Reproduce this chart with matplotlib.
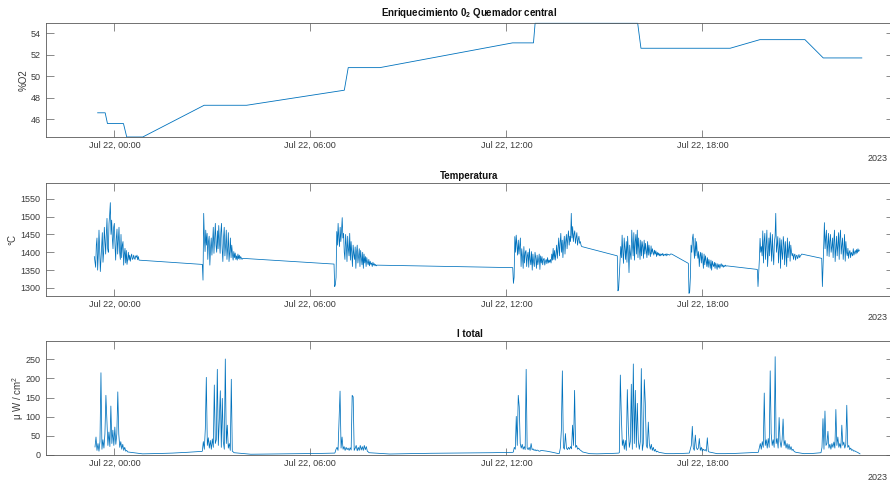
import numpy as np
import matplotlib
matplotlib.use('Agg')
import matplotlib.pyplot as plt
import matplotlib.dates as mdates

plt.rcParams['font.family'] = ['Liberation Sans', 'DejaVu Sans']
plt.rcParams['mathtext.fontset'] = 'custom'
plt.rcParams['mathtext.rm'] = 'Liberation Sans'
plt.rcParams['mathtext.it'] = 'Liberation Sans:italic'
plt.rcParams['mathtext.bf'] = 'Liberation Sans:bold'

BASE = np.datetime64('2023-07-22T00:00')
X_RANGE_H = (-2.091, 23.835)

# ---------------- O2 enrichment (hours after Jul 22 00:00, %O2) ----------------
o2_hours = [-0.51, -0.28, -0.21, 0.28, 0.38, 0.87, 2.75, 4.05, 7.04, 7.16, 8.13,
            12.19, 12.83, 12.88, 16.02, 16.12, 18.85, 19.76, 21.14, 21.70, 22.88]
o2_values = [46.6, 46.6, 45.6, 45.6, 44.35, 44.35, 47.3, 47.3, 48.7, 50.8, 50.8,
             53.1, 53.1, 54.92, 54.92, 52.6, 52.6, 53.4, 53.4, 51.7, 51.7]

# ---------------- Temperature bursts (start h, end h), values in °C ----------------
temp_spans = [(-0.612, 0.756), (2.694, 3.930), (6.725, 8.041), (12.195, 14.307),
              (15.396, 17.062), (17.570, 18.745), (19.682, 21.041), (21.653, 22.804)]
temp_b1 = [1388, 1372, 1358, 1420, 1440, 1350, 1395, 1462, 1410, 1346, 1380, 1420, 1455,
           1372, 1400, 1470, 1430, 1395, 1450, 1495, 1410, 1400,
           1480, 1505, 1539, 1450,
           1490, 1440, 1410, 1470, 1481, 1420, 1378, 1440, 1465, 1395, 1430, 1470, 1400,
           1380, 1450,
           1385, 1420, 1430, 1364, 1395, 1411, 1370, 1405, 1366, 1380, 1400, 1378,
           1392, 1375, 1388, 1395, 1380, 1382, 1392, 1384, 1380, 1390, 1386, 1392, 1379,
           1388, 1378]
temp_b2 = [1366, 1322, 1509, 1440, 1402, 1462, 1420, 1453, 1380, 1430, 1445, 1364, 1410,
           1440, 1392, 1425,
           1470, 1397, 1440, 1481, 1420, 1400, 1460, 1410, 1475, 1430, 1397, 1455, 1481,
           1410,
           1374, 1440, 1470, 1390, 1420, 1462, 1380, 1410, 1455, 1374, 1400, 1440, 1385,
           1420, 1395,
           1378, 1402, 1385, 1398, 1380, 1390, 1378, 1395, 1382, 1392, 1380, 1388, 1384,
           1380, 1383]
temp_b3 = [1367, 1304, 1310, 1330, 1458, 1420, 1481, 1440, 1416, 1470, 1430, 1460, 1497,
           1440, 1453,
           1400, 1380, 1450, 1420, 1374, 1445, 1410, 1390, 1453, 1378, 1430, 1400, 1360,
           1420, 1395,
           1380, 1415, 1355, 1400, 1420, 1370, 1390, 1410, 1360, 1405, 1385, 1365, 1400,
           1355, 1395, 1370, 1388,
           1360, 1385, 1372, 1365, 1380, 1362, 1375, 1366, 1370, 1360, 1372, 1364, 1368,
           1362, 1366, 1362, 1364]
temp_b4 = [1357, 1313, 1330, 1444, 1400, 1448, 1420, 1392, 1434, 1395, 1416, 1440,
           1360, 1410, 1385, 1355, 1416, 1370, 1400, 1405, 1360, 1390, 1400, 1358, 1410,
           1380, 1365, 1402,
           1350, 1395, 1372, 1360, 1400, 1385, 1355, 1392, 1365, 1378, 1395, 1352, 1390,
           1370, 1388, 1365, 1380, 1383, 1364, 1375, 1380, 1368, 1385, 1370, 1378, 1372,
           1380, 1370,
           1395, 1378, 1411, 1380, 1405, 1378, 1395, 1420, 1383, 1410, 1440, 1390, 1425,
           1453, 1400, 1434, 1385, 1420, 1445, 1395, 1430, 1450, 1410, 1440, 1460, 1420,
           1445,
           1430, 1509, 1440, 1472, 1430, 1450, 1460, 1425, 1440, 1455, 1420, 1435, 1445,
           1425, 1430, 1420, 1416]
temp_b5 = [1390, 1292, 1300, 1340, 1380, 1416, 1385, 1448, 1400, 1369, 1440, 1410, 1380,
           1430, 1372, 1445, 1400, 1343, 1420, 1395, 1380, 1462, 1420, 1390, 1455, 1378,
           1430, 1450, 1395,
           1462, 1385, 1440, 1410, 1380, 1434, 1390, 1430, 1415, 1383, 1434, 1395, 1425,
           1405, 1385, 1430, 1392, 1420, 1400, 1388,
           1418, 1395, 1410, 1400, 1392, 1406, 1395, 1404, 1388, 1400, 1392, 1398, 1390,
           1396, 1390, 1395, 1392, 1397, 1390, 1394, 1392, 1395, 1390, 1396, 1392, 1394,
           1393, 1392, 1395, 1395, 1395]
temp_b6 = [1369, 1285, 1290, 1330, 1420, 1400, 1439, 1451, 1410, 1383, 1439, 1390, 1430,
           1400, 1383,
           1402, 1360, 1390, 1400, 1370, 1398, 1380, 1355, 1395, 1365, 1390, 1378, 1360,
           1385, 1358,
           1380, 1370, 1355, 1378, 1350, 1375, 1365, 1360, 1372, 1355, 1370, 1362, 1352,
           1368, 1358, 1366, 1355, 1364, 1368, 1360, 1365, 1358, 1363, 1360, 1364, 1361,
           1362]
temp_b7 = [1352, 1304, 1340, 1380, 1439, 1400, 1416, 1390, 1460, 1370, 1430, 1453, 1380,
           1420, 1462, 1360, 1400, 1440,
           1390, 1455, 1420, 1375, 1450, 1400, 1365, 1430, 1445, 1509, 1400, 1420, 1444,
           1370, 1410, 1440, 1355,
           1435, 1400, 1380, 1444, 1420, 1365, 1430, 1395, 1360, 1440, 1385, 1410, 1430,
           1375, 1420, 1400, 1390,
           1397, 1380, 1392, 1395, 1378, 1390, 1392, 1382, 1388, 1394, 1385, 1390, 1392,
           1395]
temp_b8 = [1383, 1304, 1360, 1420, 1483, 1410, 1440, 1462, 1390, 1420, 1453, 1388, 1430,
           1450, 1400, 1415, 1440,
           1385, 1430, 1462, 1374, 1410, 1445, 1390, 1420, 1455, 1380, 1440, 1462, 1395,
           1420, 1440, 1380, 1410, 1450, 1375,
           1430, 1400, 1390, 1411, 1383, 1400, 1405, 1385, 1400, 1395, 1390, 1410, 1392,
           1400, 1405, 1395, 1408, 1398, 1410, 1402, 1406]
temp_bursts = [temp_b1, temp_b2, temp_b3, temp_b4, temp_b5, temp_b6, temp_b7, temp_b8]

# ---------------- Total intensity runs (start h, end h), values in µW/cm² ----------------
int_spans = [(-0.591, 0.380), (0.410, 2.684), (2.694, 3.642), (3.664, 6.745),
             (6.755, 7.775), (7.796, 12.204), (12.213, 13.030), (13.061, 13.597),
             (13.621, 14.307), (14.331, 15.433), (15.458, 16.651), (16.673, 17.591),
             (17.600, 18.182), (18.203, 19.703), (19.712, 20.835), (20.866, 21.610),
             (21.631, 22.724), (22.749, 22.825)]
int_b1 = [21, 47, 12, 30, 10, 35, 215, 15, 40, 18, 55, 156, 91, 25, 60, 22, 128, 30, 65,
          25, 73, 28, 55, 165, 54, 20, 35, 15, 28, 12, 20, 10, 12]
int_g1 = [8, 3, 3.8, 5, 7, 9.5]
int_b2 = [10, 35, 15, 69, 203, 25, 45, 18, 38, 15, 42, 20, 183, 30, 40, 224, 25, 91, 168,
          20, 148, 35, 15, 251, 30, 78, 18, 30, 12, 198, 10, 8]
int_g2 = [6, 2, 2.5, 3, 3.5, 4, 5]
int_b3 = [6, 15, 20, 12, 86, 167, 18, 47, 15, 22, 12, 20, 14, 18, 12, 19, 13, 156, 152,
          12, 18, 25, 11, 20, 12, 25, 13, 22, 12, 25, 14, 22, 10, 8]
int_g3 = [6, 2.6, 3.5, 4.5, 5, 5.5, 6, 7]
int_b4 = [8, 20, 15, 101, 25, 156, 126, 30, 18, 28, 15, 22, 14, 224, 18, 14, 20, 12, 30,
          14, 16, 12, 14, 11, 13, 12, 10, 10]
int_g4 = [12, 10, 7, 3.5]
int_b5 = [4, 18, 65, 220, 20, 15, 56, 18, 14, 20, 15, 22, 16, 78, 25, 169, 20, 25, 15,
          18, 14, 12, 10]
int_g5 = [8, 3.5, 3, 3.5, 4, 5]
int_b6 = [6, 209, 104, 25, 40, 15, 38, 12, 171, 73, 20, 35, 185, 15, 238, 30, 169, 20,
          135, 38, 15, 35, 226, 12, 30, 197, 136, 25, 18, 86, 30, 15, 28, 12, 20, 10, 15,
          8, 10, 8]
int_g6 = [7, 3.5, 3.5, 4, 5]
int_b7 = [5, 15, 25, 75, 18, 12, 52, 20, 14, 18, 43, 12, 20, 10, 15, 12, 14, 10, 45, 10]
int_g7 = [8, 3.5, 3.5, 4, 5, 6, 7]
int_b8 = [7, 18, 30, 15, 35, 20, 162, 25, 40, 18, 43, 20, 220, 56, 25, 40, 20, 257, 30,
          43, 18, 98, 35, 20, 40, 94, 25, 38, 18, 30, 15, 28, 14, 22, 12, 15, 10, 8]
int_g8 = [7, 3.5, 4, 6]
int_b9 = [6, 20, 95, 15, 115, 25, 30, 62, 18, 28, 15, 30, 20, 34, 18, 119, 25, 47, 20,
          30, 18, 78, 25, 34, 18, 28, 130, 20, 25, 14, 18, 12, 14, 10, 11, 9, 8]
int_g9 = [7, 5, 3]
int_runs = [int_b1, int_g1, int_b2, int_g2, int_b3, int_g3, int_b4, int_g4, int_b5,
            int_g5, int_b6, int_g6, int_b7, int_g7, int_b8, int_g8, int_b9, int_g9]


def to_time(hours):
    ms = np.round(np.asarray(hours, dtype=float) * 3600e3).astype('int64')
    return BASE + ms.astype('timedelta64[ms]')


def assemble(spans, runs):
    hrs, vals = [], []
    for (h0, h1), v in zip(spans, runs):
        hrs.append(np.linspace(h0, h1, len(v)))
        vals.append(np.asarray(v, dtype=float))
    return to_time(np.concatenate(hrs)), np.concatenate(vals)


t_temp, v_temp = assemble(temp_spans, temp_bursts)
t_int, v_int = assemble(int_spans, int_runs)
t_o2 = to_time(o2_hours)

LINE = '#0072BD'
AX_C = '#5a5a5a'
TXT = '#3a3a3a'

fig = plt.figure(figsize=(8.9, 4.82), dpi=100)
W, H = 890.0, 482.0
left_px, right_px = 46.0, 893.0
boxes = [(23.3, 137.0), (182.7, 296.0), (341.0, 455.0)]
axes = []
for top, bot in boxes:
    ax = fig.add_axes([left_px / W, 1 - bot / H, (right_px - left_px) / W, (bot - top) / H])
    axes.append(ax)

ax1, ax2, ax3 = axes
ax1.plot(t_o2, o2_values, color=LINE, lw=0.6, clip_on=False)
ax2.plot(t_temp, v_temp, color=LINE, lw=0.55)
ax3.plot(t_int, v_int, color=LINE, lw=0.55)

ax1.set_ylim(44.35, 54.92)
ax1.set_yticks([46, 48, 50, 52, 54])
ax2.set_ylim(1277.6, 1594.8)
ax2.set_yticks([1300, 1350, 1400, 1450, 1500, 1550])
ax3.set_ylim(0, 298)
ax3.set_yticks([0, 50, 100, 150, 200, 250])

titles = ['Enriquecimiento 0$_{\\mathbf{2}}$ Quemador central', 'Temperatura', 'I total']
pads = [5.6, 2.6, 2.6]
ylabels = ['%O2', '°C', 'μ W / cm$^2$']
ylab_x = [-0.021, -0.034, -0.024]

for ax, ttl, pad, yl, yx in zip(axes, titles, pads, ylabels, ylab_x):
    ax.set_xlim(to_time(X_RANGE_H[0]), to_time(X_RANGE_H[1]))
    ax.xaxis.set_major_locator(mdates.HourLocator(byhour=[0, 6, 12, 18]))
    ax.xaxis.set_major_formatter(mdates.DateFormatter('%b %d, %H:%M'))
    ax.tick_params(axis='both', which='major', direction='in', length=5.4, width=0.5,
                   color=AX_C, labelsize=6.5, labelcolor=TXT, top=True, right=True)
    ax.tick_params(axis='x', pad=3.0)
    ax.tick_params(axis='y', pad=4.0)
    for s in ax.spines.values():
        s.set_color(AX_C)
        s.set_linewidth(0.6)
    ax.set_title(ttl, fontsize=7, fontweight='bold', color='#111111', pad=pad)
    ax.set_ylabel(yl, fontsize=7, color=TXT)
    ax.yaxis.set_label_coords(yx, 0.5)
    ax.text(0.9941, -0.193, '2023', transform=ax.transAxes, ha='right', va='center',
            fontsize=6.5, color=TXT)

fig.savefig('out.png', dpi=100)
